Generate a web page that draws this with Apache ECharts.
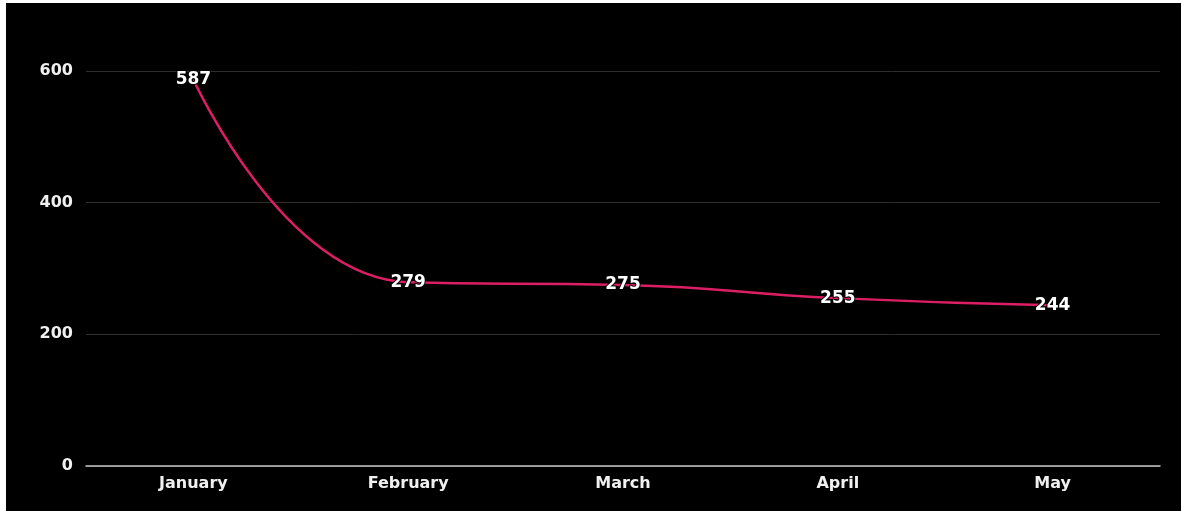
<!DOCTYPE html>
<html>
<head>
<meta charset="utf-8">
<script src="https://cdn.jsdelivr.net/npm/echarts@6/dist/echarts.min.js"></script>
<style>
  html, body { margin: 0; padding: 0; background: #fff; }
  #LineChart {
    position: absolute;
    left: 6px;
    top: 3px;
    width: 1175px;
    height: 508px;
    background: #000;
  }
</style>
</head>
<body>
<div id="LineChart"></div>
<script>
const months = ['January', 'February', 'March', 'April', 'May']
const sales = [587, 279, 275, 255, 244]
const yTicks = [0, 200, 400, 600]

const chart = echarts.init(document.getElementById('LineChart'))
chart.setOption({
  backgroundColor: '#000',
  animation: false,
  grid: { left: 80, right: 21, top: 68, bottom: 45 },
  xAxis: {
    type: 'category',
    data: months,
    axisLine: { lineStyle: { color: '#c8c8c8', width: 1.5 } },
    axisTick: { show: false },
    axisLabel: {
      color: '#f0f0f0',
      fontFamily: 'DejaVu Sans',
      fontWeight: 'bold',
      fontSize: 16,
      margin: 10
    }
  },
  yAxis: {
    type: 'value',
    min: yTicks[0],
    max: yTicks[yTicks.length - 1],
    interval: 200,
    axisLine: { show: false },
    axisTick: { show: false },
    splitLine: { lineStyle: { color: '#2e2e2e', width: 1 } },
    axisLabel: {
      color: '#f0f0f0',
      fontFamily: 'DejaVu Sans',
      fontWeight: 'bold',
      fontSize: 16,
      margin: 13
    }
  },
  series: [{
    type: 'line',
    data: sales,
    smooth: 0.5,
    showSymbol: true,
    symbolSize: 0,
    lineStyle: { color: '#dc1e64', width: 2.5 },
    itemStyle: { color: '#dc1e64' },
    label: {
      show: true,
      position: 'inside',
      color: '#fff',
      fontFamily: 'DejaVu Sans',
      fontWeight: 'bold',
      fontSize: 17,
      textBorderColor: '#000',
      textBorderWidth: 2
    }
  }]
})
</script>
</body>
</html>
